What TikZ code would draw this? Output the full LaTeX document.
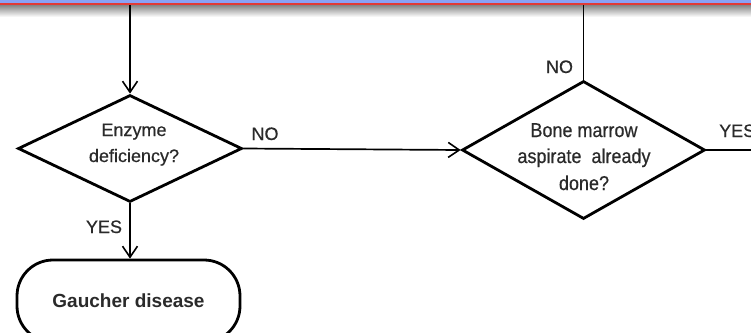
\documentclass[tikz,border=0pt]{standalone}
\usepackage{fontspec}
\setmainfont{Liberation Sans}
\newfontfamily\labelsans[FakeBold=0.5]{Liberation Sans}
\newfontfamily\narrowsans[FakeStretch=0.9,FakeBold=0.5]{Liberation Sans}
\usetikzlibrary{shapes.geometric,arrows.meta,calc}
\definecolor{ink}{HTML}{2A2A2A}
\definecolor{bandblue}{HTML}{8AA2F5}
\definecolor{bandred}{HTML}{E23A36}
\begin{document}
\begin{tikzpicture}[x=1pt,y=-1pt,
  decision/.style={diamond,draw=black,line width=2.8pt,inner sep=0pt},
  terminal/.style={draw=black,line width=2.8pt,rounded corners=36pt,inner sep=0pt,
    text=ink,font=\fontsize{19}{19}\selectfont\bfseries},
  qtext/.style={anchor=base,text=ink,inner sep=0pt,font=\fontsize{18}{18}\labelsans},
  qtextb/.style={anchor=base,text=ink,inner sep=0pt,font=\fontsize{20}{20}\narrowsans},
  answer/.style={anchor=base,text=ink,inner sep=0pt,font=\fontsize{18}{18}\labelsans},
  conn/.style={draw=black,line width=1.7pt},
  tip/.style={-{Straight Barb[length=11pt,width=15pt,line width=1.6pt]}}]

% page frame
\useasboundingbox (0,0) rectangle (751,332);
\fill[white] (0,0) rectangle (751,332);

% header band with its drop shadow
\shade[top color=black!50, bottom color=white] (0,4.5) rectangle (751,17);
\fill[bandblue] (0,0) rectangle (751,3.4);
\fill[bandred] (0,3.2) rectangle (751,4.8);

% connector ends at the band and at the right edge
\coordinate (t1) at (130,4.8);
\coordinate (t2) at (583.5,4.8);
\coordinate (r2) at (751,150);

% decision diamonds
\node[decision,minimum width=224pt,minimum height=107pt] (d1) at (130,148.5) {};
\node[decision,minimum width=243pt,minimum height=138pt] (d2) at (583.5,150) {};

% questions
\node[qtext] (q1a) at (134,136) {Enzyme};
\node[qtext] (q1b) at (134,162) {deficiency?};
\node[qtextb] (q2a) at (584,137) {Bone marrow};
\node[qtextb] (q2b) at (584,163) {aspirate\ \ already};
\node[qtextb] (q2c) at (584,190) {done?};

% outcome
\node[terminal,minimum width=223pt,minimum height=82pt] (gd) at (128.5,301) {Gaucher disease};

% connectors
\draw[conn,tip] (t1) -- (d1.north);
\draw[conn] (t2) -- (d2.north);
\draw[conn,tip] (d1.east) -- (d2.west);
\draw[conn,tip] (d1.south) -- (d1.south |- gd.north);
\draw[conn] (d2.east) -- (r2);

% branch labels
\node[answer] (no1) at (265,140) {NO};
\node[answer] (no2) at (559.5,73) {NO};
\node[answer] (yes1) at (104,233) {YES};
\node[answer,anchor=base west] (yes2) at (719,137) {YES};
\end{tikzpicture}
\end{document}
